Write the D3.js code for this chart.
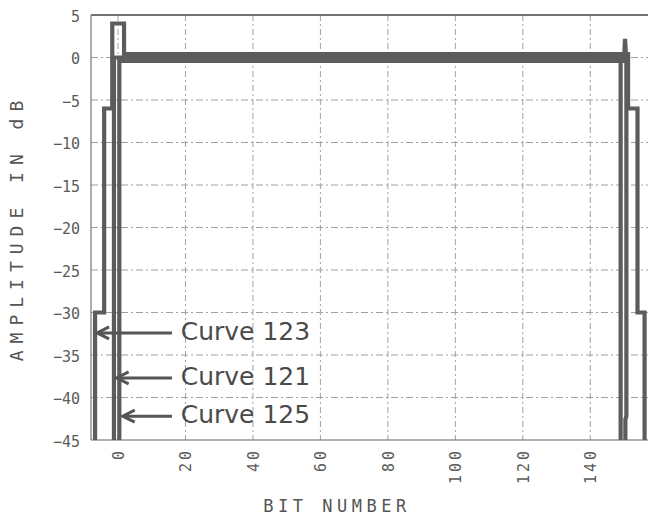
<!DOCTYPE html>
<html>
<head>
<meta charset="utf-8">
<script src="https://cdn.jsdelivr.net/npm/d3@7"></script>
<style>
  body { margin: 0; background: #fff; }
</style>
</head>
<body>
<script>
// tick values
var xTicks = [0, 20, 40, 60, 80, 100, 120, 140];
var yTicks = [5, 0, -5, -10, -15, -20, -25, -30, -35, -40, -45];

// curves as [bit, dB] vertices (step traces)
var curve123 = [[-6.8, -45], [-6.8, -30], [-4.1, -30], [-4.1, -6], [-1.7, -6], [-1.7, 4],
                [1.8, 4], [1.8, 0.4], [151.2, 0.4], [151.2, -6], [154, -6], [154, -30],
                [156.1, -30], [156.1, -45]];
var curve121 = [[-1.2, -45], [-1.2, 0], [149, 0], [149, -45]];
var curve125 = [[0.4, -45], [0.4, -0.4], [150, -0.4], [150.3, 2.2], [150.7, -0.4],
                [150.7, -42.2], [150.4, -42.6], [150.4, -45]];

// callouts: label, arrow tip [bit, dB]
var callouts = [
  {label: "Curve 123", bit: -6.2, db: -32.4},
  {label: "Curve 121", bit: -0.4, db: -37.7},
  {label: "Curve 125", bit: 1.4, db: -42.2}
];
var calloutTail = 16;   // bit where arrow shafts start
var calloutText = 18.6; // bit where labels start

var W = 648, H = 515;
var margin = {top: 15, right: -3, bottom: 75, left: 91},
    width = W - margin.left - margin.right,
    height = H - margin.top - margin.bottom;

var svg = d3.select("body").append("svg")
    .attr("width", W)
    .attr("height", H)
  .append("g")
    .attr("transform", "translate(" + margin.left + "," + margin.top + ")");

var x = d3.scaleLinear().domain([-8, 158]).range([0, width]);
var y = d3.scaleLinear().domain([5, -45]).range([0, height]);

var mono = "DejaVu Sans Mono";

// grid
svg.append("g")
    .selectAll("line.v")
    .data(xTicks)
    .enter().append("line")
    .attr("x1", function(d) { return x(d); })
    .attr("x2", function(d) { return x(d); })
    .attr("y1", 0)
    .attr("y2", height)
    .style("stroke", "#a0a0a0")
    .style("stroke-width", 1)
    .style("stroke-dasharray", "6,3,2,3");

svg.append("g")
    .selectAll("line.h")
    .data(yTicks.slice(1, -1))
    .enter().append("line")
    .attr("x1", 0)
    .attr("x2", width)
    .attr("y1", function(d) { return y(d); })
    .attr("y2", function(d) { return y(d); })
    .style("stroke", "#a0a0a0")
    .style("stroke-width", 1)
    .style("stroke-dasharray", "7,3,2,3");

// frame
svg.append("line").attr("x1", 0).attr("x2", width).attr("y1", 0).attr("y2", 0)
    .style("stroke", "#444").style("stroke-width", 1.5);
svg.append("line").attr("x1", 0).attr("x2", width).attr("y1", height).attr("y2", height)
    .style("stroke", "#666").style("stroke-width", 1.2);
svg.append("line").attr("x1", 0).attr("x2", 0).attr("y1", 0).attr("y2", height)
    .style("stroke", "#777").style("stroke-width", 1.2);

// curves
var line = d3.line()
    .x(function(d) { return x(d[0]); })
    .y(function(d) { return y(d[1]); });

[curve123, curve121, curve125].forEach(function(c) {
  svg.append("path")
      .datum(c)
      .style("fill", "none")
      .style("stroke", "#5c5c5c")
      .style("stroke-width", 4.2)
      .style("stroke-linejoin", "miter")
      .attr("d", line);
});

// y axis labels
var yAxis = svg.append("g")
    .call(d3.axisLeft(y).tickValues(yTicks).tickSize(0).tickPadding(11));
yAxis.select(".domain").remove();
yAxis.selectAll("text")
    .attr("font-family", mono)
    .attr("font-size", 15)
    .attr("dy", "0.4em")
    .style("fill", "#5a5a5a");

// x axis labels, rotated
var xAxis = svg.append("g")
    .attr("transform", "translate(0," + height + ")")
    .call(d3.axisBottom(x).tickValues(xTicks).tickSize(0));
xAxis.select(".domain").remove();
xAxis.selectAll("text")
    .attr("font-family", mono)
    .attr("font-size", 15)
    .attr("letter-spacing", 3)
    .attr("transform", "rotate(-90)")
    .attr("text-anchor", "end")
    .attr("x", -8)
    .attr("y", 0)
    .attr("dy", "0.35em")
    .style("fill", "#5a5a5a");

// axis titles
svg.append("text")
    .attr("x", 246)
    .attr("y", height + 72)
    .attr("font-family", mono)
    .attr("font-size", 17)
    .attr("letter-spacing", 4.5)
    .style("text-anchor", "middle")
    .style("fill", "#555")
    .text("BIT NUMBER");

svg.append("text")
    .attr("transform", "rotate(-90)")
    .attr("x", -(y(-20)))
    .attr("y", -margin.left + 23)
    .attr("font-family", mono)
    .attr("font-size", 18)
    .attr("letter-spacing", 7)
    .style("text-anchor", "middle")
    .style("fill", "#555")
    .text("AMPLITUDE IN dB");

// callouts
var co = svg.append("g").selectAll("g")
    .data(callouts)
    .enter().append("g");

co.append("line")
    .attr("x1", function(d) { return x(d.bit); })
    .attr("x2", x(calloutTail))
    .attr("y1", function(d) { return y(d.db); })
    .attr("y2", function(d) { return y(d.db); })
    .style("stroke", "#555")
    .style("stroke-width", 3);

co.append("path")
    .attr("d", function(d) {
      var tx = x(d.bit), ty = y(d.db);
      return "M" + (tx + 12) + "," + (ty - 6) + "L" + tx + "," + ty + "L" + (tx + 12) + "," + (ty + 6);
    })
    .style("fill", "none")
    .style("stroke", "#555")
    .style("stroke-width", 3);

co.append("text")
    .attr("x", x(calloutText))
    .attr("y", function(d) { return y(d.db); })
    .attr("dy", "0.28em")
    .attr("font-family", "DejaVu Sans")
    .attr("font-size", 25)
    .style("fill", "#4a4a4a")
    .text(function(d) { return d.label; });
</script>
</body>
</html>
